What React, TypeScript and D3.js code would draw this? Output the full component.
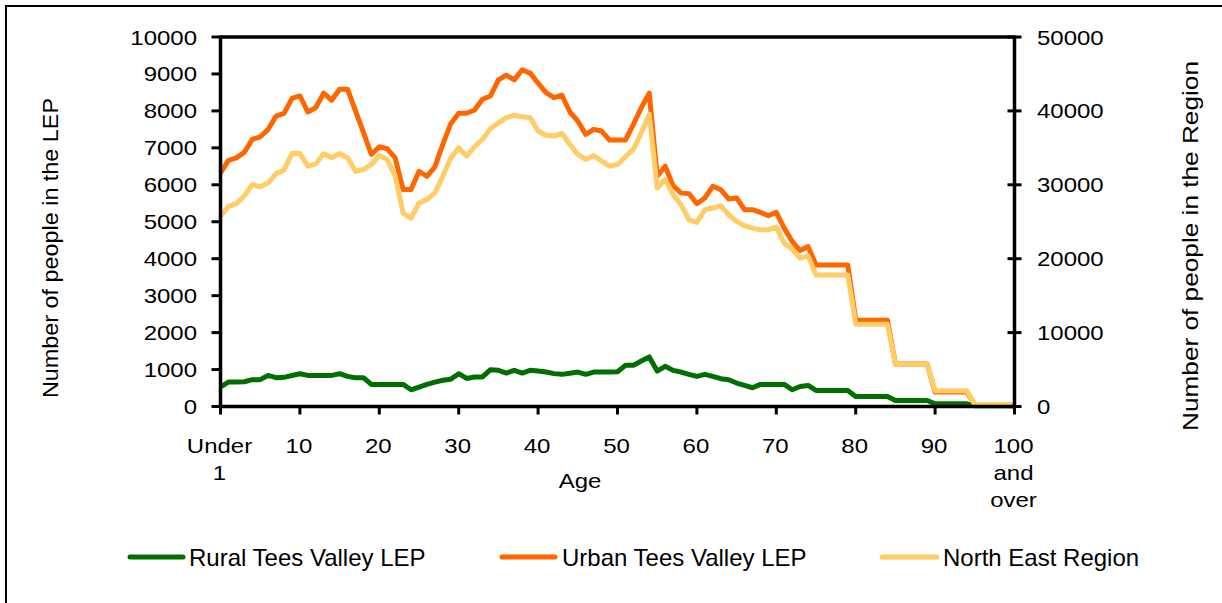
import React from "react";
import * as d3 from "d3";

const ages: number[] = d3.range(0, 101);

const xTickAges = [0, 10, 20, 30, 40, 50, 60, 70, 80, 90, 100];
const xTickLabels: string[][] = [["Under", "1"], ["10"], ["20"], ["30"], ["40"], ["50"], ["60"], ["70"], ["80"], ["90"], ["100", "and", "over"]];
const leftTicks = [0, 1000, 2000, 3000, 4000, 5000, 6000, 7000, 8000, 9000, 10000];
const rightTicks = [0, 10000, 20000, 30000, 40000, 50000];

// Rural Tees Valley LEP (left axis)
const rural: number[] = [
  530, 660, 660, 670, 726, 726, 842, 780, 790, 840,
  888, 842, 842, 842, 842, 888, 815, 780, 780, 598,
  598, 598, 598, 598, 453, 524, 600, 660, 710, 740,
  888, 760, 797, 800, 997, 978, 906, 978, 906, 978,
  960, 933, 890, 870, 900, 933, 870, 933, 933, 933,
  940, 1114, 1114, 1232, 1341, 960, 1087, 978, 933, 870,
  815, 870, 815, 752, 726, 634, 571, 508, 598, 598,
  598, 598, 453, 543, 571, 435, 435, 435, 435, 435,
  272, 272, 272, 272, 272, 163, 163, 163, 163, 163,
  72, 72, 72, 72, 72, 20, 20, 20, 20, 20,
  15,
];

// Urban Tees Valley LEP (left axis)
const urban: number[] = [
  6320, 6660, 6730, 6880, 7230, 7300, 7500, 7860, 7935, 8340,
  8405, 7970, 8090, 8478, 8288, 8587, 8587, 8000, 7420, 6820,
  7030, 6975, 6730, 5870, 5870, 6367, 6231, 6486, 7092, 7654,
  7935, 7935, 8025, 8315, 8405, 8840, 8967, 8840, 9112, 9022,
  8750, 8497, 8361, 8424, 7970, 7726, 7364, 7500, 7455, 7210,
  7210, 7210, 7636, 8089, 8478, 6231, 6503, 5978, 5779, 5761,
  5489, 5643, 5960, 5870, 5616, 5643, 5326, 5326, 5254, 5163,
  5254, 4827, 4465, 4221, 4329, 3832, 3832, 3832, 3832, 3832,
  2337, 2337, 2337, 2337, 2337, 1150, 1150, 1150, 1150, 1150,
  390, 390, 390, 390, 390, 50, 50, 50, 50, 50,
  45,
];

// North East Region (right axis)
const region: number[] = [
  25750, 27080, 27450, 28530, 30030, 29720, 30260, 31520, 31980, 34240,
  34240, 32520, 32840, 34200, 33650, 34240, 33650, 31840, 32070, 32750,
  33970, 33430, 31160, 26180, 25500, 27540, 27990, 28900, 31160, 33650,
  35010, 33880, 35150, 36140, 37600, 38410, 39090, 39400, 39220, 39090,
  37280, 36690, 36600, 36960, 35460, 34110, 33430, 33970, 33200, 32520,
  32750, 33790, 34790, 37050, 39540, 29580, 30710, 28670, 27310, 25270,
  24910, 26630, 26860, 27170, 25950, 25050, 24460, 24140, 23920, 23920,
  24280, 22100, 21290, 20070, 20380, 17800, 17800, 17800, 17800, 17800,
  11140, 11140, 11140, 11140, 11140, 5710, 5710, 5710, 5710, 5710,
  2130, 2130, 2130, 2130, 2130, 270, 270, 270, 270, 270,
  270,
];

const seriesNames = ["Rural Tees Valley LEP", "Urban Tees Valley LEP", "North East Region"];
const seriesColors = ["#006e00", "#ff6600", "#ffcc66"];

const FONT = "'Liberation Sans', Arial, sans-serif";

export default function App() {
  const W = 1222, H = 603;
  const x = d3.scaleLinear().domain([0, 100]).range([220.5, 1014.5]);
  const yL = d3.scaleLinear().domain([0, 10000]).range([406.5, 37]);
  const yR = d3.scaleLinear().domain([0, 50000]).range([406.5, 37]);

  const lineL = d3.line<number>().x((_, i) => x(ages[i])).y((d) => yL(d));
  const lineR = d3.line<number>().x((_, i) => x(ages[i])).y((d) => yR(d));

  const paths = [
    { d: lineL(rural) as string, c: seriesColors[0] },
    { d: lineL(urban) as string, c: seriesColors[1] },
    { d: lineR(region) as string, c: seriesColors[2] },
  ];

  const legendItems = [
    { x1: 130, x2: 183, tx: 189 },
    { x1: 502, x2: 555, tx: 562 },
    { x1: 882, x2: 937, tx: 943 },
  ];

  const [x0, x1] = x.range();
  const [yb, yt] = yL.range();

  return (
    <svg width={W} height={H} style={{ position: "absolute", left: 0, top: 0, background: "#fff" }} fontFamily={FONT}>
      <rect x={0} y={0} width={W} height={H} fill="#fff" />
      <rect x={6} y={6} width={W + 20} height={H + 20} fill="none" stroke="#000" strokeWidth={2} />

      {/* series */}
      {paths.map((p, i) => (
        <path key={i} d={p.d} fill="none" stroke={p.c} strokeWidth={5} strokeLinejoin="round" strokeLinecap="butt" />
      ))}

      {/* plot frame */}
      <line x1={x0} y1={yt} x2={x1} y2={yt} stroke="#000" strokeWidth={3.5} />
      <line x1={x0} y1={yt - 1.5} x2={x0} y2={yb + 1.5} stroke="#000" strokeWidth={3.5} />
      <line x1={x1} y1={yt - 1.5} x2={x1} y2={yb + 1.5} stroke="#000" strokeWidth={3.5} />
      <line x1={x0 - 1.5} y1={yb} x2={x1 + 1.5} y2={yb} stroke="#000" strokeWidth={3.5} />

      {/* left ticks */}
      {leftTicks.map((t) => (
        <g key={"l" + t}>
          <line x1={x0 - 9} x2={x0} y1={yL(t)} y2={yL(t)} stroke="#000" strokeWidth={3} />
          <text transform={`translate(197,${yL(t) + 7.5}) scale(1.2,1)`} textAnchor="end" fontSize={20} fill="#000">{t}</text>
        </g>
      ))}

      {/* right ticks */}
      {rightTicks.map((t) => (
        <g key={"r" + t}>
          <line x1={x1 - 7} x2={x1 + 7} y1={yR(t)} y2={yR(t)} stroke="#000" strokeWidth={3} />
          <text transform={`translate(1037,${yR(t) + 7.5}) scale(1.2,1)`} textAnchor="start" fontSize={20} fill="#000">{t}</text>
        </g>
      ))}

      {/* bottom ticks + labels */}
      {xTickAges.map((a, i) => (
        <g key={"x" + a}>
          <line x1={x(a)} x2={x(a)} y1={yb} y2={yb + 8} stroke="#000" strokeWidth={3} />
          {xTickLabels[i].map((s, j) => (
            <text key={j} transform={`translate(${x(a) - 1},${453 + j * 27}) scale(1.2,1)`} textAnchor="middle" fontSize={20} fill="#000">{s}</text>
          ))}
        </g>
      ))}

      <text transform={`translate(580,488) scale(1.2,1)`} textAnchor="middle" fontSize={20} fill="#000">Age</text>

      {/* axis titles */}
      <text transform="translate(58,248) rotate(-90)" textAnchor="middle" fontSize={22} textLength={300} lengthAdjust="spacingAndGlyphs" fill="#000">Number of people in the LEP</text>
      <text transform="translate(1198,246) rotate(-90)" textAnchor="middle" fontSize={22} textLength={370} lengthAdjust="spacingAndGlyphs" fill="#000">Number of people in the Region</text>

      {/* legend */}
      {legendItems.map((l, i) => (
        <g key={"lg" + i}>
          <line x1={l.x1} x2={l.x2} y1={557} y2={557} stroke={seriesColors[i]} strokeWidth={5} strokeLinecap="round" />
          <text x={l.tx} y={566} fontSize={24} fill="#000">{seriesNames[i]}</text>
        </g>
      ))}
    </svg>
  );
}
